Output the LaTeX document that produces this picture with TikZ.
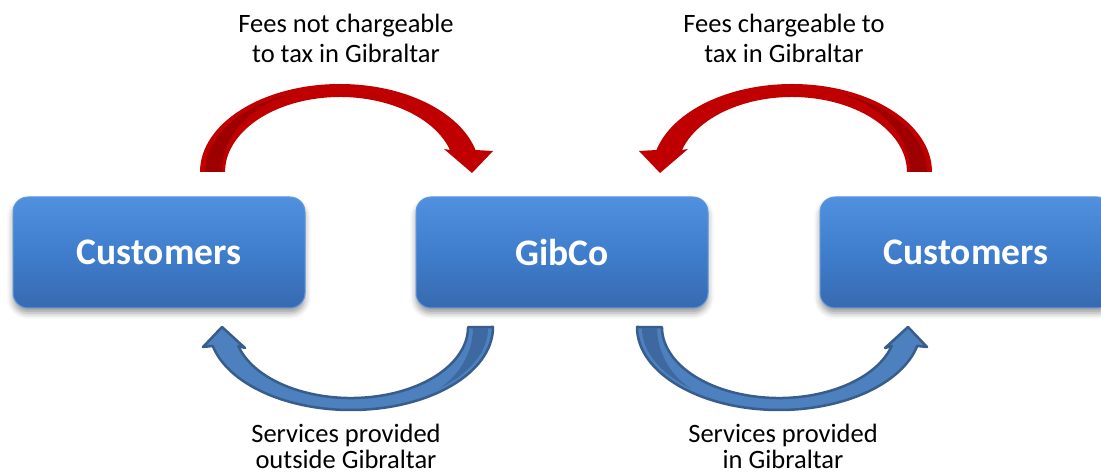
\documentclass[tikz,border=0pt]{standalone}
\usepackage{fontspec}
\setmainfont{Carlito}
\usetikzlibrary{positioning,shadows.blur}
\definecolor{boxtop}{RGB}{80,144,222}
\definecolor{boxmid}{RGB}{63,126,205}
\definecolor{boxbot}{RGB}{55,106,176}
\definecolor{boxrim}{RGB}{96,152,222}
\definecolor{feered}{RGB}{192,0,0}
\definecolor{feedark}{RGB}{158,0,0}
\definecolor{servblue}{RGB}{76,128,190}
\definecolor{servrim}{RGB}{56,93,138}
\definecolor{servdark}{RGB}{62,104,160}
\tikzset{
  party/.style = {
    rounded corners=15pt, minimum width=292pt, minimum height=111pt,
    top color=boxtop, bottom color=boxbot, middle color=boxmid,
    draw=boxrim, line width=1pt,
    text=white, font=\fontsize{37.5}{40}\selectfont\bfseries,
    blur shadow={shadow xshift=0pt, shadow yshift=-5pt,
      shadow blur radius=6pt, shadow opacity=40}
  },
  caption/.style = {align=center, anchor=base, font=\fontsize{26.5}{30}\selectfont},
  tightcaption/.style = {caption, font=\fontsize{26.5}{26}\selectfont}
}
\tikzset{
  feearrow/.pic = {
    \fill[feered] (-140,0) arc[start angle=180, end angle=14.48, x radius=140, y radius=88]
      -- (153,21) -- (132,-1) -- (104,23) -- (110,22)
      arc[start angle=17.06, end angle=180, x radius=115, y radius=75] -- cycle;
    \fill[feedark] (-135,0) arc[start angle=180, end angle=105, x radius=135, y radius=84]
      .. controls (-80,73) and (-118,43) .. (-118,0) -- cycle;
  },
  servarrow/.pic = {
    \filldraw[fill=servblue, draw=servrim, line width=2.5pt, line join=round]
      (142,0) arc[start angle=360, end angle=193.2, x radius=142, y radius=83]
      -- (-148,-20) -- (-129,0) -- (-106,-21) -- (-112.7,-19)
      arc[start angle=195.5, end angle=360, x radius=117, y radius=71] -- cycle;
    \fill[servdark] (137,-1) arc[start angle=0, end angle=-50, x radius=137, y radius=79]
      .. controls (111,-47) and (122,-22) .. (122,-1) -- cycle;
  }
}

\begin{document}
\begin{tikzpicture}[x=1pt,y=1pt]
  \useasboundingbox (0,0) rectangle (1101,474);
  % parties
  \node[party] (cust1) at (159,221.5) {Customers};
  \node[party,right=110pt of cust1] (gib) {GibCo};
  \node[party,right=111pt of gib] (cust2) {Customers};
  % fee arrows
  \pic at (340,302) {feearrow};
  \pic[xscale=-1] at (792,302) {feearrow};
  % service arrows
  \pic at (351,147) {servarrow};
  \pic[xscale=-1] at (779,147) {servarrow};
  % captions
  \node[caption] (feesout) at (346,411) {Fees not chargeable\\to tax in Gibraltar};
  \node[caption] (feesin) at (784,411) {Fees chargeable to\\tax in Gibraltar};
  \node[tightcaption] (servout) at (346,5) {Services provided\\outside Gibraltar};
  \node[tightcaption] (servin) at (783,5) {Services provided\\in Gibraltar};
\end{tikzpicture}
\end{document}
